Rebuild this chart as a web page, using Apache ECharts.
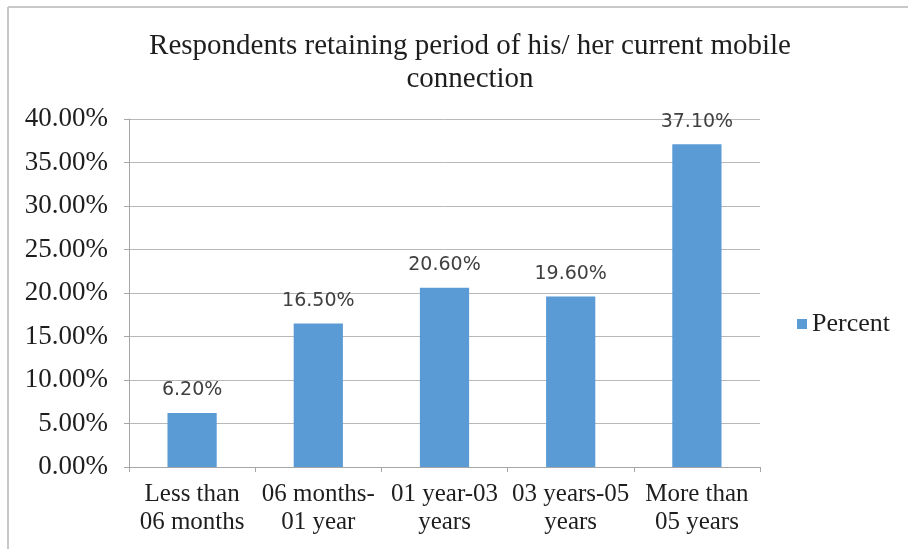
<!DOCTYPE html>
<html>
<head>
<meta charset="utf-8">
<script src="https://cdn.jsdelivr.net/npm/echarts@6/dist/echarts.min.js"></script>
<style>
  html, body { margin: 0; padding: 0; background: #fff; }
  #chart { width: 908px; height: 549px; }
</style>
</head>
<body>
<div id="chart"></div>
<script>
const categories = [
  "Less than\n06 months",
  "06 months-\n01 year",
  "01 year-03\nyears",
  "03 years-05\nyears",
  "More than\n05 years"
];
const percentValues = [6.2, 16.5, 20.6, 19.6, 37.1];
const seriesName = "Percent";
const titleText = "Respondents retaining period of his/ her current mobile\nconnection";

const serif = "'Liberation Serif', 'Times New Roman', serif";

const chart = echarts.init(document.getElementById("chart"));

const option = {
  animation: false,
  backgroundColor: "#fff",
  title: {
    text: titleText,
    left: 465,
    top: 25,
    textAlign: "center",
    textStyle: {
      fontFamily: serif,
      fontWeight: "normal",
      fontSize: 29,
      lineHeight: 33,
      color: "#1e1e1e"
    }
  },
  legend: {
    orient: "vertical",
    left: 792,
    top: 306,
    itemWidth: 10,
    itemHeight: 10,
    itemGap: 8,
    icon: "rect",
    textStyle: { fontFamily: serif, fontSize: 26, color: "#1e1e1e" },
    data: [seriesName]
  },
  grid: { left: 129, right: 148, top: 119, bottom: 82 },
  xAxis: {
    type: "category",
    data: categories,
    axisLine: { lineStyle: { color: "#a6a6a6" } },
    axisTick: { show: true, length: 5, lineStyle: { color: "#a6a6a6" } },
    axisLabel: {
      fontFamily: serif,
      fontSize: 25,
      lineHeight: 28,
      color: "#1e1e1e",
      margin: 13,
      interval: 0
    }
  },
  yAxis: {
    type: "value",
    min: 0,
    max: 40,
    interval: 5,
    axisLine: { show: true, lineStyle: { color: "#a6a6a6" } },
    axisTick: { show: true, length: 5, lineStyle: { color: "#a6a6a6" } },
    splitLine: { lineStyle: { color: "#b8b8b8" } },
    axisLabel: {
      fontFamily: serif,
      fontSize: 27,
      color: "#1e1e1e",
      margin: 21,
      formatter: v => v.toFixed(2) + "%"
    }
  },
  series: [
    {
      name: seriesName,
      type: "bar",
      data: percentValues,
      barWidth: "39%",
      itemStyle: { color: "#5b9bd5" },
      label: {
        show: true,
        position: "top",
        distance: 13,
        fontFamily: "'DejaVu Sans', 'Open Sans', sans-serif",
        fontSize: 19,
        color: "#404040",
        formatter: p => p.value.toFixed(2) + "%"
      }
    }
  ],
  graphic: [
    { type: "line", shape: { x1: 8, y1: 7, x2: 908, y2: 7 }, style: { stroke: "#c8c8c8", lineWidth: 2 } },
    { type: "line", shape: { x1: 8, y1: 7, x2: 8, y2: 549 }, style: { stroke: "#c8c8c8", lineWidth: 2 } }
  ]
};

chart.setOption(option);
</script>
</body>
</html>
